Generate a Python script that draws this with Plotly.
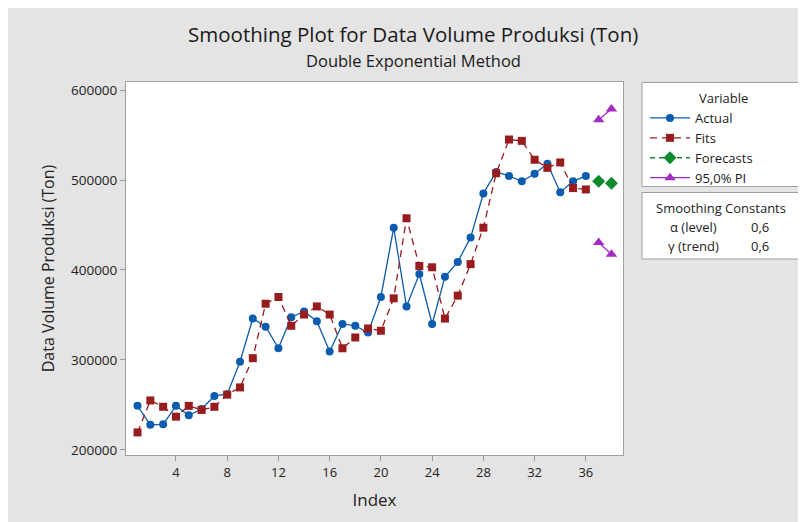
import plotly.graph_objects as go

index = list(range(1, 37))
actual = [249000, 228000, 228500, 249000, 238500, 245500, 260000, 262000, 298000, 346000,
          337000, 313000, 347500, 354000, 343000, 309500, 340000, 338000, 330500, 370000,
          447000, 359500, 395500, 340000, 392500, 409000, 436000, 485000, 509000, 504500,
          498500, 507000, 518000, 486500, 498500, 504500]
fits = [219500, 255000, 248000, 237000, 249000, 244500, 248000, 261500, 269500, 302000,
        362500, 370000, 338000, 350500, 359500, 350500, 313000, 325000, 335000, 332500,
        368500, 457500, 404500, 403000, 346000, 371500, 406500, 447000, 507500, 545000,
        543500, 522500, 513500, 519500, 491000, 489500]
fc_index = [37, 38]
forecasts = [498500, 496500]
pi_upper = [567000, 579000]
pi_lower = [430500, 417500]

xticks = [4, 8, 12, 16, 20, 24, 28, 32, 36]
yticks = [200000, 300000, 400000, 500000, 600000]

BLUE = "#0B5CAE"
RED = "#981B1E"
GREEN = "#0E8A2C"
PURPLE = "#A32BC2"
FONT = "Open Sans"

fig = go.Figure()
fig.add_trace(go.Scatter(x=index, y=actual, name="Actual", mode="lines+markers",
                         line=dict(color=BLUE, width=1.3),
                         marker=dict(symbol="circle", size=8, color=BLUE)))
fig.add_trace(go.Scatter(x=index, y=fits, name="Fits", mode="lines+markers",
                         line=dict(color=RED, width=1.3, dash="7px,5px"),
                         marker=dict(symbol="square", size=8, color=RED)))
fig.add_trace(go.Scatter(x=fc_index, y=forecasts, name="Forecasts", mode="lines+markers",
                         line=dict(color=GREEN, width=1.3, dash="5px,4px"),
                         marker=dict(symbol="diamond", size=10, color=GREEN)))
fig.add_trace(go.Scatter(x=fc_index, y=pi_upper, name="95,0% PI", mode="lines+markers",
                         legendgroup="pi",
                         line=dict(color=PURPLE, width=1.3),
                         marker=dict(symbol="triangle-up", size=10, color=PURPLE)))
fig.add_trace(go.Scatter(x=fc_index, y=pi_lower, name="95,0% PI", mode="lines+markers",
                         legendgroup="pi", showlegend=False,
                         line=dict(color=PURPLE, width=1.3),
                         marker=dict(symbol="triangle-up", size=10, color=PURPLE)))

# page offset of the figure (body margin)
OFF = 8
L, R, T, B = 126, 623, 82, 455   # plot area in page pixels
W, H = 806, 522
pw, ph = R - L, B - T


def px(x):
    return (x - L) / pw


def py(y):
    return (B - y) / ph


shapes = [
    dict(type="rect", xref="paper", yref="paper", x0=px(642), x1=px(800), y0=py(82.5), y1=py(186.5),
         fillcolor="white", line=dict(color="#A0A0A0", width=1), layer="below"),
    dict(type="rect", xref="paper", yref="paper", x0=px(642), x1=px(800), y0=py(192.5), y1=py(259),
         fillcolor="white", line=dict(color="#A0A0A0", width=1), layer="below"),
]

ann_font = dict(family=FONT, size=13, color="#222222")
annotations = [
    dict(text="Smoothing Plot for Data Volume Produksi (Ton)", xref="paper", yref="paper",
         x=px(413), y=py(34), showarrow=False, font=dict(family=FONT, size=20.5, color="#1a1a1a"),
         xanchor="center", yanchor="middle"),
    dict(text="Double Exponential Method", xref="paper", yref="paper",
         x=px(413), y=py(60.5), showarrow=False, font=dict(family=FONT, size=16.5, color="#1a1a1a"),
         xanchor="center", yanchor="middle"),
    dict(text="Variable", xref="paper", yref="paper", x=px(697), y=py(98), showarrow=False,
         font=ann_font, xanchor="left", yanchor="middle"),
    dict(text="Smoothing Constants", xref="paper", yref="paper", x=px(721), y=py(208), showarrow=False,
         font=ann_font, xanchor="center", yanchor="middle"),
    dict(text="α (level)", xref="paper", yref="paper", x=px(693), y=py(227), showarrow=False,
         font=ann_font, xanchor="center", yanchor="middle"),
    dict(text="0,6", xref="paper", yref="paper", x=px(760), y=py(227), showarrow=False,
         font=ann_font, xanchor="center", yanchor="middle"),
    dict(text="γ (trend)", xref="paper", yref="paper", x=px(693), y=py(246), showarrow=False,
         font=ann_font, xanchor="center", yanchor="middle"),
    dict(text="0,6", xref="paper", yref="paper", x=px(760), y=py(246), showarrow=False,
         font=ann_font, xanchor="center", yanchor="middle"),
]

fig.update_layout(
    width=W, height=H,
    margin=dict(l=L - OFF, r=W - (R - OFF), t=T - OFF, b=H - (B - OFF), pad=0),
    paper_bgcolor="#E4E4E4",
    plot_bgcolor="white",
    font=dict(family=FONT, size=12, color="#222222"),
    shapes=shapes,
    annotations=annotations,
    showlegend=True,
    legend=dict(x=px(645), y=py(103), xanchor="left", yanchor="top",
                bgcolor="rgba(0,0,0,0)", borderwidth=0, itemwidth=40,
                tracegroupgap=0, font=dict(family=FONT, size=13, color="#222222")),
)
fig.update_xaxes(range=[0.1, 38.9], tickvals=xticks, ticks="outside", ticklen=5,
                 tickcolor="#999999", showgrid=False, zeroline=False,
                 showline=True, mirror=True, linecolor="#A0A0A0", linewidth=1,
                 tickfont=dict(family=FONT, size=13, color="#222222"),
                 title=dict(text="Index", font=dict(family=FONT, size=17, color="#222222"), standoff=14))
fig.update_yaxes(range=[194400, 608900], tickvals=yticks, ticks="outside", ticklen=5,
                 tickcolor="#999999", showgrid=False, zeroline=False,
                 showline=True, mirror=True, linecolor="#A0A0A0", linewidth=1,
                 tickformat="d",
                 tickfont=dict(family=FONT, size=13.5, color="#222222"),
                 title=dict(text="Data Volume Produksi (Ton)", font=dict(family=FONT, size=16, color="#222222"), standoff=12))

fig.write_html("out.html")
